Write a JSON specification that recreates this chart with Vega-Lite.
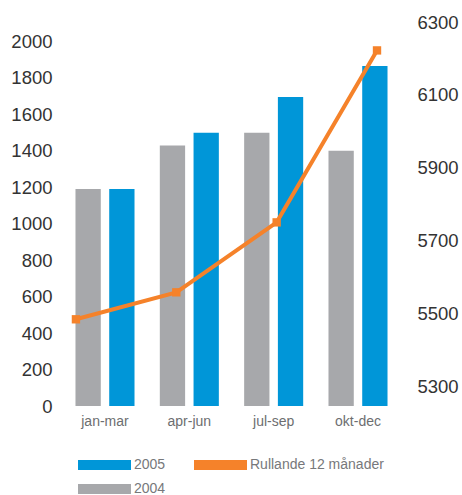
{
  "$schema": "https://vega.github.io/schema/vega-lite/v6.json",
  "autosize": "none",
  "width": 337,
  "height": 384,
  "padding": {"left": 63, "top": 22, "right": 62, "bottom": 89},
  "background": "white",
  "config": {
    "view": {"stroke": null},
    "font": "Liberation Sans",
    "axis": {"grid": false, "domain": false, "ticks": false, "labelFont": "Liberation Sans"}
  },
  "data": {
    "values": [
      {"quarter": "jan-mar", "series": "2004", "value": 1190},
      {"quarter": "jan-mar", "series": "2005", "value": 1190},
      {"quarter": "apr-jun", "series": "2004", "value": 1430},
      {"quarter": "apr-jun", "series": "2005", "value": 1500},
      {"quarter": "jul-sep", "series": "2004", "value": 1500},
      {"quarter": "jul-sep", "series": "2005", "value": 1695},
      {"quarter": "okt-dec", "series": "2004", "value": 1400},
      {"quarter": "okt-dec", "series": "2005", "value": 1865},
      {"quarter": "jan-mar", "series": "Rullande 12 månader", "value": 5484},
      {"quarter": "apr-jun", "series": "Rullande 12 månader", "value": 5558},
      {"quarter": "jul-sep", "series": "Rullande 12 månader", "value": 5750},
      {"quarter": "okt-dec", "series": "Rullande 12 månader", "value": 6222}
    ]
  },
  "layer": [
    {
      "transform": [{"filter": "datum.series !== 'Rullande 12 månader'"}],
      "mark": {"type": "bar"},
      "encoding": {
        "x": {
          "field": "quarter", "type": "nominal", "sort": ["jan-mar", "apr-jun", "jul-sep", "okt-dec"],
          "scale": {"paddingInner": 0.3, "paddingOuter": 0.148},
          "axis": {"title": null, "labelAngle": 0, "labelFontSize": 14, "labelColor": "#6d6e70", "labelPadding": 8}
        },
        "xOffset": {"field": "series", "type": "nominal", "sort": ["2004", "2005"], "scale": {"paddingInner": 0.25}},
        "y": {
          "field": "value", "type": "quantitative",
          "scale": {"domain": [0, 2107], "nice": false, "zero": true},
          "axis": {"title": null, "orient": "left", "format": "d", "values": [0, 200, 400, 600, 800, 1000, 1200, 1400, 1600, 1800, 2000], "labelFontSize": 18.5, "labelColor": "#333333", "labelPadding": 11}
        },
        "color": {
          "field": "series", "type": "nominal",
          "scale": {"domain": ["2005", "Rullande 12 månader", "2004"], "range": ["#0096d8", "#f5822a", "#a7a8ab"]},
          "legend": {
            "title": null, "orient": "none", "direction": "horizontal", "legendX": 34.5, "legendY": 436, "columns": 2,
            "values": ["2005", "Rullande 12 månader", "2004"],
            "symbolType": "M-5.3,-1H5.3V1H-5.3Z", "symbolSize": 100, "symbolStrokeWidth": 0,
            "labelFontSize": 14, "labelColor": "#77787b", "labelOffset": 22.5,
            "columnPadding": 28, "rowPadding": 10,
            "encode": {"symbols": {"update": {"fill": {"scale": "color", "field": "value"}, "opacity": {"value": 1}}}}
          }
        }
      }
    },
    {
      "transform": [{"filter": "datum.series === 'Rullande 12 månader'"}],
      "mark": {"type": "line", "strokeWidth": 4, "point": {"shape": "square", "size": 70, "filled": true}},
      "encoding": {
        "x": {
          "field": "quarter", "type": "ordinal", "sort": ["jan-mar", "apr-jun", "jul-sep", "okt-dec"],
          "scale": {"type": "point", "padding": 0.179, "align": 0.36},
          "axis": null
        },
        "y": {
          "field": "value", "type": "quantitative",
          "scale": {"domain": [5246, 6300], "nice": false, "zero": false},
          "axis": {"title": null, "orient": "right", "format": "d", "values": [5300, 5500, 5700, 5900, 6100, 6300], "labelFontSize": 18.5, "labelColor": "#333333", "labelPadding": 17}
        },
        "color": {"field": "series", "type": "nominal"}
      }
    }
  ],
  "resolve": {"scale": {"x": "independent", "y": "independent", "xOffset": "independent"}}
}
